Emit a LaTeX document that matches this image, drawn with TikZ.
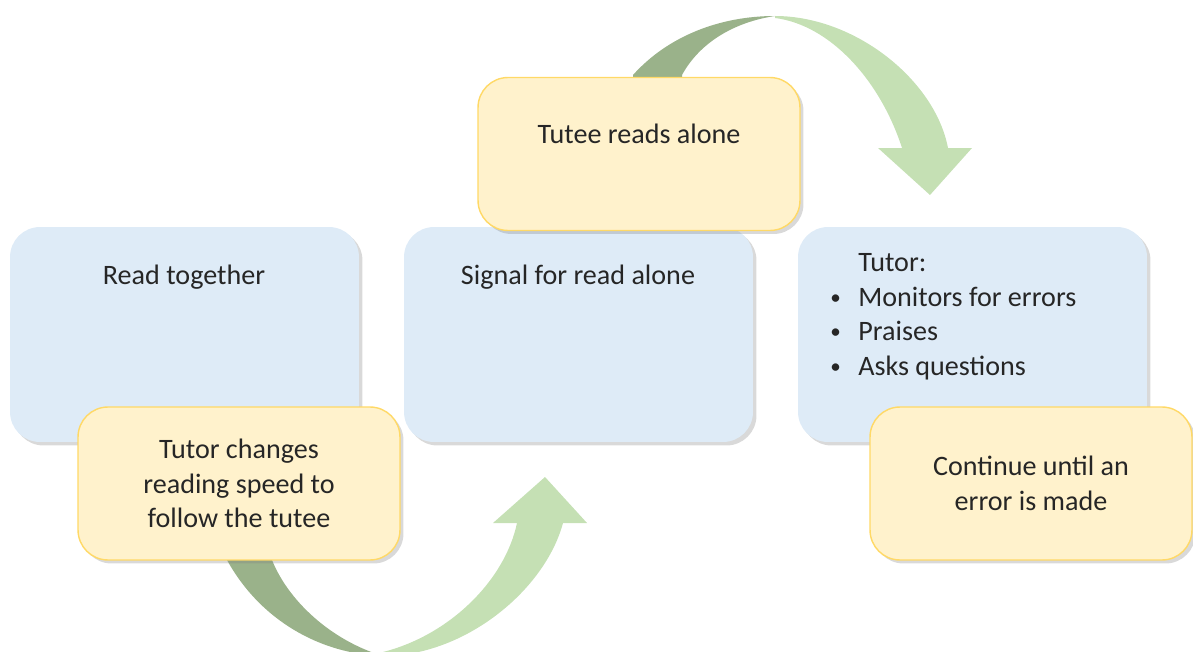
\documentclass[tikz,border=0pt]{standalone}
\usepackage{fontspec}
\setmainfont{Carlito}
\usetikzlibrary{shadows,positioning}
\definecolor{boxblue}{HTML}{DEEBF7}
\definecolor{noteyellow}{HTML}{FFF2CC}
\definecolor{notegold}{HTML}{FFD966}
\definecolor{arrowgreen}{HTML}{C5E0B4}
\definecolor{arrowdark}{HTML}{9AB28A}
\definecolor{textgray}{HTML}{262626}
\newcommand{\smallbullet}{\makebox[0.56cm][l]{\raisebox{0.15ex}{\fontsize{12}{12}\selectfont\textbullet}}}
\tikzset{main box/.style={rectangle,rounded corners=0.6cm,fill=boxblue,draw=none,minimum width=6.98cm,minimum height=4.3cm,inner sep=0pt,
                          drop shadow={opacity=0.3,shadow xshift=0.07cm,shadow yshift=-0.07cm}},
         note box/.style={rectangle,rounded corners=0.6cm,fill=noteyellow,draw=notegold,line width=0.8pt,minimum width=6.44cm,minimum height=3.06cm,inner sep=0pt,
                          align=center,text=textgray,font=\fontsize{16}{19.8}\selectfont,
                          drop shadow={opacity=0.3,shadow xshift=0.07cm,shadow yshift=-0.07cm}},
         box text/.style={inner sep=0pt,text=textgray,font=\fontsize{16}{19.8}\selectfont},
         back band/.style={fill=arrowdark,draw=none},
         front band/.style={fill=arrowgreen,draw=none}
}

\begin{document}
\begin{tikzpicture}[x=0.02cm,y=-0.02cm]
\clip (0,0) rectangle (1193,652);
% blue steps
\node[main box] (1) at (184.5,334.5) {};
\node[main box] (2) at (578.5,334.5) {};
\node[main box] (3) at (972.5,334.5) {};
% curved arrows
\fill[back band] (633,95) -- (633,75) .. controls (668,36) and (720,16) .. (775,16)
    .. controls (735,22) and (700,42) .. (682,75) -- (682,95) -- cycle;
\fill[front band] (775,16) .. controls (855,16) and (935,80) .. (948,148) -- (972,148) -- (930,195)
    -- (878,148) -- (902,148) .. controls (880,80) and (830,25) .. (775,18) -- cycle;
\fill[back band] (227,545) -- (227,560) .. controls (260,620) and (320,654) .. (383,656)
    .. controls (330,640) and (288,600) .. (272,560) -- (272,545) -- cycle;
\fill[front band] (383,656) .. controls (465,656) and (545,590) .. (563,523) -- (587,523) -- (545,477)
    -- (493,523) -- (517,523) .. controls (505,580) and (450,635) .. (383,652) -- cycle;
% yellow notes
\node[note box] (4) at (239,483.5) {Tutor changes\\reading speed to\\follow the tutee};
\node[note box] (5) at (639,154) {};
\node[note box] (6) at (1031,483.5) {Continue until an\\error is made};
% texts in the boxes
\node[box text] (t1) at (184,277) {Read together};
\node[box text] (t2) at (578,277) {Signal for read alone};
\node[box text] (t5) at (639,134) {Tutee reads alone};
\node[box text,anchor=north west,align=left] (t3) at (830,253)
    {\hspace*{0.56cm}Tutor:\\
     \smallbullet Monitors for errors\\
     \smallbullet Praises\\
     \smallbullet Asks questions};
\end{tikzpicture}
\end{document}
